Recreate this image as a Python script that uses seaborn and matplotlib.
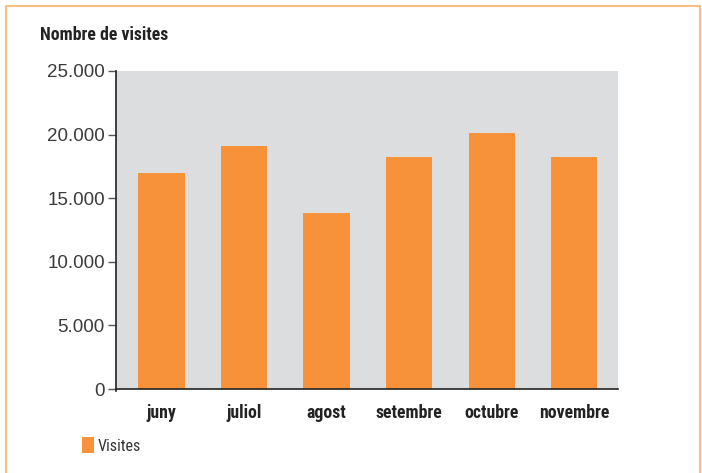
import matplotlib
matplotlib.use("Agg")
import matplotlib.pyplot as plt
import matplotlib.patches as mpatches
from matplotlib.ticker import FuncFormatter
import seaborn as sns
import pandas as pd
from matplotlib import font_manager

months = ["juny", "juliol", "agost", "setembre", "octubre", "novembre"]
visites = [17000, 19100, 13800, 18200, 20100, 18200]
yticks = [0, 5000, 10000, 15000, 20000, 25000]
title = "Nombre de visites"
legend_label = "Visites"

sns.set_theme(style="white")
names = {f.name for f in font_manager.fontManager.ttflist}
narrow = "Roboto Condensed" if "Roboto Condensed" in names else "DejaVu Sans"
plt.rcParams['font.family'] = ['Liberation Sans', 'DejaVu Sans']

orange = "#F7923A"
bg = "#DCDDDF"

df = pd.DataFrame({"mes": months, "visites": visites})

fig = plt.figure(figsize=(7.02, 4.73), dpi=100)
ax = fig.add_axes([116/702, 1 - 389/473, (618-116)/702, (389-71)/473])
sns.barplot(data=df, x="mes", y="visites", color=orange, width=0.56, ax=ax,
            saturation=1, edgecolor="none")
ax.set_facecolor(bg)
ax.set_xlim(-0.55, 5.53)
ax.set_ylim(0, 25000)
ax.set_yticks(yticks)
ax.yaxis.set_major_formatter(FuncFormatter(lambda v, p: f"{int(v):,}".replace(",", ".")))
ax.set_xlabel("")
ax.set_ylabel("")
for s in ["top", "right"]:
    ax.spines[s].set_visible(False)
for s in ["left", "bottom"]:
    ax.spines[s].set_color("#222222")
    ax.spines[s].set_linewidth(1.2)
ax.spines["left"].set_bounds(-150, 25000)
ax.spines["left"].set_clip_on(False)
ax.tick_params(axis="y", left=True, length=6, width=1, color="#555555",
               labelsize=13.5, labelcolor="#3a3a3a", pad=2)
ax.tick_params(axis="x", bottom=False, pad=5)
for lab in ax.get_xticklabels():
    lab.set_fontfamily(narrow)
    lab.set_fontweight("bold")
    lab.set_fontsize(12.8)
    lab.set_color("#222222")

fig.text(40/702, 1 - 35/473, title, fontfamily=narrow, fontweight="bold",
         fontsize=12.8, color="#222222", va="center", ha="left")

# legend
fig.patches.append(mpatches.Rectangle((82/702, 1 - 453/473), 12/702, 16/473,
                                      transform=fig.transFigure, facecolor=orange,
                                      edgecolor="none"))
fig.text(98/702, 1 - 446/473, legend_label, fontfamily=narrow, fontweight="normal",
         fontsize=11.5, color="#333333", va="center", ha="left")

# frame border
fig.patches.append(mpatches.Rectangle((6/702, -0.05), (700-6)/702, 1 - 6/473 + 0.05,
                                      transform=fig.transFigure, facecolor="none",
                                      edgecolor="#F9BD86", linewidth=1.5))

fig.savefig("out.png", dpi=100)
